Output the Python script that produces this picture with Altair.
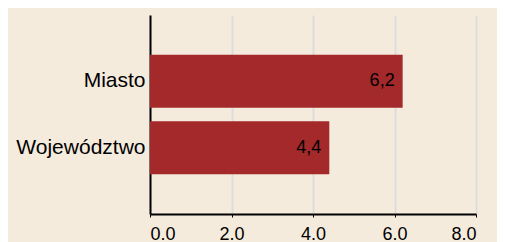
import altair as alt
import pandas as pd

categories = ["Miasto", "Województwo"]
values = [6.2, 4.4]
x_ticks = [0, 2, 4, 6, 8]

labels = [f"{v:.1f}".replace(".", ",") for v in values]
df = pd.DataFrame({"cat": categories, "val": values, "lab": labels})

BG = "#F5EBDD"
BAR = "#A3292A"

y_enc = alt.Y(
    "cat:N",
    sort=categories,
    title=None,
    scale=alt.Scale(paddingInner=0.2, paddingOuter=0.6),
    axis=alt.Axis(
        domain=True, domainColor="#000000", domainWidth=2,
        ticks=False, labelPadding=5, labelFontSize=21,
        labelFont="Liberation Sans", labelColor="#000000", grid=False,
    ),
)

x_enc = alt.X(
    "val:Q",
    title=None,
    scale=alt.Scale(domain=[0, 8], nice=False),
    axis=alt.Axis(
        values=x_ticks, format=".1f",
        domain=True, domainColor="#000000", domainWidth=2,
        ticks=True, tickSize=3, tickColor="#000000", tickWidth=1,
        labelPadding=8, labelFontSize=18,
        labelFont="Liberation Sans", labelColor="#000000",
        grid=True, gridColor="#DCDCDC", gridWidth=2,
    ),
)

bars = alt.Chart(df).mark_bar(color=BAR).encode(x=x_enc, y=y_enc)

text = alt.Chart(df).mark_text(
    align="right", baseline="middle", dx=-8, fontSize=18,
    font="Liberation Sans", color="#000000",
).encode(x="val:Q", y=alt.Y("cat:N", sort=categories), text="lab:N")

chart = (
    alt.layer(bars, text)
    .properties(
        width=326, height=199,
        autosize=alt.AutoSizeParams(type="none"),
        padding={"left": 142, "top": 7, "right": 21, "bottom": 28},
        background=BG,
    )
    .configure_view(stroke=None)
)

chart.save("out.html", embed_options={"renderer": "svg", "actions": False})
